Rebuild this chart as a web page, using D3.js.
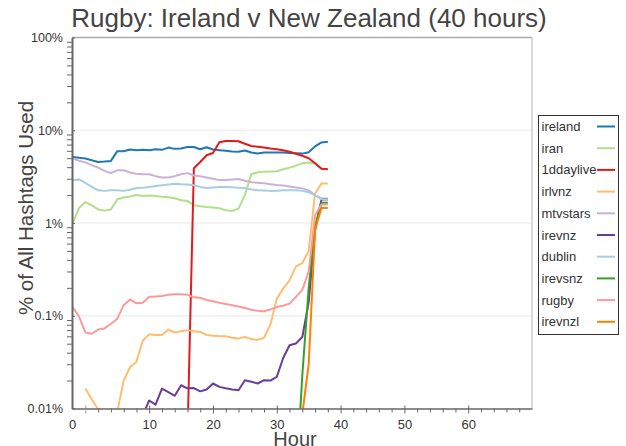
<!DOCTYPE html>
<html><head><meta charset="utf-8">
<script src="https://cdn.jsdelivr.net/npm/d3@7"></script>
<style>body{margin:0;background:#fff;} svg{display:block;font-family:"Liberation Sans",Arial,Helvetica,sans-serif;}</style>
</head><body><svg id="c" width="626" height="446"></svg>
<script>
// ---- data (percent of all hashtags, hourly, hour -2 .. 38) ----
const hours = d3.range(-2, 39);
const seriesNames = ["ireland","iran","1ddaylive","irlvnz","mtvstars","irevnz","dublin","irevsnz","rugby","irevnzl"];
const seriesColors = ["#1f78b4","#b2df8a","#e31a1c","#fdbf6f","#cab2d6","#6a3d9a","#a6cee3","#33a02c","#fb9a99","#ff7f00"];
const N = null;
const ireland = [5.15,5.05,4.95,4.75,4.55,4.6,4.67,5.95,5.95,6.2,6.1,6.15,6.1,6.25,6.15,6.5,6.3,6.35,6.6,6.6,6.25,6.55,6.2,6.1,6.0,5.9,5.85,6.05,5.75,5.6,5.75,5.75,5.75,5.75,5.7,5.65,5.6,5.8,6.7,7.4,7.5];
const iran = [1.0,1.45,1.68,1.55,1.4,1.36,1.4,1.8,1.88,1.93,2.0,1.95,1.98,1.95,1.92,1.9,1.85,1.76,1.73,1.55,1.52,1.49,1.47,1.44,1.37,1.35,1.43,2.0,3.35,3.52,3.58,3.6,3.62,3.8,3.95,4.15,4.4,4.49,4.38,3.86,3.8];
const oneddaylive = [N,N,N,N,N,N,N,N,N,N,N,N,N,N,N,N,N,N,0.005,3.9,4.55,5.38,5.69,7.42,7.67,7.67,7.6,7.15,6.77,6.64,6.51,6.36,6.24,6.09,5.86,5.58,5.31,4.99,4.41,3.85,3.8];
const irlvnz = [N,N,0.0164,0.0125,0.0098,0.007,0.006,0.0093,0.02,0.028,0.032,0.054,0.063,0.062,0.062,0.071,0.066,0.068,0.07,0.068,0.067,0.062,0.061,0.06,0.06,0.058,0.057,0.059,0.056,0.055,0.058,0.08,0.153,0.196,0.241,0.34,0.37,0.5,2.08,2.66,2.66];
const mtvstars = [4.95,4.7,4.5,4.2,3.95,3.65,3.45,3.7,3.7,3.5,3.4,3.35,3.35,3.2,3.1,3.1,3.2,3.35,3.45,3.25,3.2,3.1,3.0,2.9,2.9,2.95,2.98,2.85,2.75,2.72,2.68,2.62,2.57,2.53,2.48,2.42,2.36,2.25,2.0,1.84,1.84];
const irevnz = [N,N,N,N,N,N,N,N,N,N,0.005,0.0085,0.0122,0.011,0.0164,0.015,0.0137,0.0178,0.0165,0.0166,0.0153,0.016,0.0186,0.0171,0.0165,0.016,0.0157,0.0202,0.0194,0.0186,0.0202,0.02,0.0219,0.035,0.048,0.0502,0.059,0.14,0.835,1.79,1.79];
const dublin = [2.89,2.95,2.7,2.45,2.25,2.22,2.25,2.25,2.22,2.28,2.38,2.4,2.45,2.5,2.55,2.6,2.65,2.62,2.6,2.55,2.45,2.38,2.42,2.45,2.45,2.43,2.4,2.38,2.3,2.25,2.24,2.22,2.23,2.25,2.26,2.25,2.22,2.15,1.99,1.8,1.79];
const irevsnz = [N,N,N,N,N,N,N,N,N,N,N,N,N,N,N,N,N,N,N,N,N,N,N,N,N,N,N,N,N,N,N,N,N,N,N,0.0015,0.023,0.2,0.92,1.65,1.65];
const rugby = [0.124,0.098,0.066,0.064,0.071,0.073,0.082,0.093,0.13,0.15,0.136,0.138,0.16,0.161,0.163,0.168,0.171,0.171,0.168,0.158,0.156,0.148,0.143,0.138,0.134,0.13,0.126,0.121,0.116,0.113,0.112,0.117,0.124,0.128,0.135,0.16,0.19,0.3,1.21,1.58,1.58];
const irevnzl = [N,N,N,N,N,N,N,N,N,N,N,N,N,N,N,N,N,N,N,N,N,N,N,N,N,N,N,N,N,N,N,N,N,N,N,0.001,0.0087,0.03,0.85,1.45,1.45];
const seriesValues = [ireland, iran, oneddaylive, irlvnz, mtvstars, irevnz, dublin, irevsnz, rugby, irevnzl];
const xTickValues = [0,10,20,30,40,50,60];
const yTickValues = [0.01,0.1,1,10,100];
const yTickLabels = ["0.01%","0.1%","1%","10%","100%"];

// ---- chart ----
const svg = d3.select("#c");
const L = 72, R = 532, T = 37.5, B = 408.5;
const x = d3.scaleLinear().domain([-2.1, 70]).range([L, R]);
const y = d3.scaleLog().domain([0.01, 100]).range([B, T]);

svg.append("defs").append("clipPath").attr("id","clip")
  .append("rect").attr("x",L).attr("y",T).attr("width",R-L).attr("height",B-T);

// grid
svg.append("g").selectAll("line").data([0.1,1,10]).join("line")
  .attr("x1",L).attr("x2",R).attr("y1",d=>y(d)).attr("y2",d=>y(d))
  .attr("stroke","#f0f0f0").attr("stroke-width",1.5);
svg.append("line").attr("x1",L).attr("x2",R).attr("y1",y(100)).attr("y2",y(100))
  .attr("stroke","#aaa").attr("stroke-width",1.5);
svg.append("line").attr("x1",R).attr("x2",R).attr("y1",T).attr("y2",B)
  .attr("stroke","#ccc").attr("stroke-width",1.5);

// lines
const line = d3.line().defined(d=>d[1]!=null).x(d=>x(d[0])).y(d=>y(d[1]));
const gl = svg.append("g").attr("clip-path","url(#clip)");
seriesNames.forEach((name,i)=>{
  gl.append("path").datum(hours.map((h,j)=>[h, seriesValues[i][j]]))
    .attr("d", line).attr("fill","none").attr("stroke",seriesColors[i])
    .attr("stroke-width",2).attr("stroke-linejoin","round");
});

// x axis
const axColor = "#666";
const gxMinor = svg.append("g").attr("transform",`translate(0,${B})`)
  .call(d3.axisBottom(x).tickValues(d3.range(2,70,2).filter(v=>v%10!==0)).tickSize(4).tickFormat(""));
gxMinor.select(".domain").remove();
gxMinor.selectAll("line").attr("stroke",axColor).attr("stroke-width",1);
const gx = svg.append("g").attr("transform",`translate(0,${B})`)
  .call(d3.axisBottom(x).tickValues(xTickValues).tickSize(5).tickSizeOuter(0).tickPadding(6).tickFormat(d=>d));
gx.select(".domain").attr("stroke",axColor).attr("stroke-width",1.5);
gx.selectAll(".tick line").attr("y1",-3).attr("stroke",axColor).attr("stroke-width",1);
gx.selectAll(".tick").filter(d=>d===0).select("line").attr("stroke","#999").attr("stroke-dasharray","3,2");
gx.selectAll(".tick").filter(d=>d===0).select("text").attr("x", L - x(0));
gx.selectAll(".tick text").attr("font-size",13).attr("fill","#333").attr("font-family","Liberation Sans, Arial, sans-serif");

// y axis
const minorY = [];
[0.01,0.1,1,10].forEach(dec=>{ for(let k=2;k<=9;k++) minorY.push(dec*k); });
const gyMinor = svg.append("g").attr("transform",`translate(${L},0)`)
  .call(d3.axisLeft(y).tickValues(minorY).tickSize(5).tickFormat(""));
gyMinor.select(".domain").remove();
gyMinor.selectAll("line").attr("stroke",axColor).attr("stroke-width",1);
const gy = svg.append("g").attr("transform",`translate(${L},0)`)
  .call(d3.axisLeft(y).tickValues(yTickValues).tickFormat((d,i)=>yTickLabels[i]).tickSize(7).tickSizeOuter(0).tickPadding(2));
gy.select(".domain").attr("stroke",axColor).attr("stroke-width",2);
gy.selectAll(".tick line").attr("x2",3).attr("stroke",axColor).attr("stroke-width",1);
gy.selectAll(".tick text").attr("font-size",12.5).attr("fill","#333").attr("font-family","Liberation Sans, Arial, sans-serif");

// titles
svg.append("text").attr("x",309).attr("y",27).attr("text-anchor","middle")
  .attr("font-size",26).attr("fill","#444").text("Rugby: Ireland v New Zealand (40 hours)");
svg.append("text").attr("transform","translate(33,208) rotate(-90)").attr("text-anchor","middle")
  .attr("font-size",20.5).attr("fill","#444").text("% of All Hashtags Used");
svg.append("text").attr("x",295).attr("y",446).attr("text-anchor","middle")
  .attr("font-size",20).attr("fill","#444").text("Hour");

// legend
const lg = svg.append("g");
lg.append("rect").attr("x",538.5).attr("y",115.5).attr("width",80).attr("height",219)
  .attr("fill","#fff").attr("stroke","#333").attr("stroke-width",1);
seriesNames.forEach((name,i)=>{
  const cy = 126.5 + i*21.7;
  lg.append("text").attr("x",541.5).attr("y",cy).attr("dy","0.35em")
    .attr("font-size",13).attr("fill","#333").text(name);
  lg.append("line").attr("x1",597).attr("x2",615).attr("y1",cy).attr("y2",cy)
    .attr("stroke",seriesColors[i]).attr("stroke-width",2);
});
</script></body></html>
